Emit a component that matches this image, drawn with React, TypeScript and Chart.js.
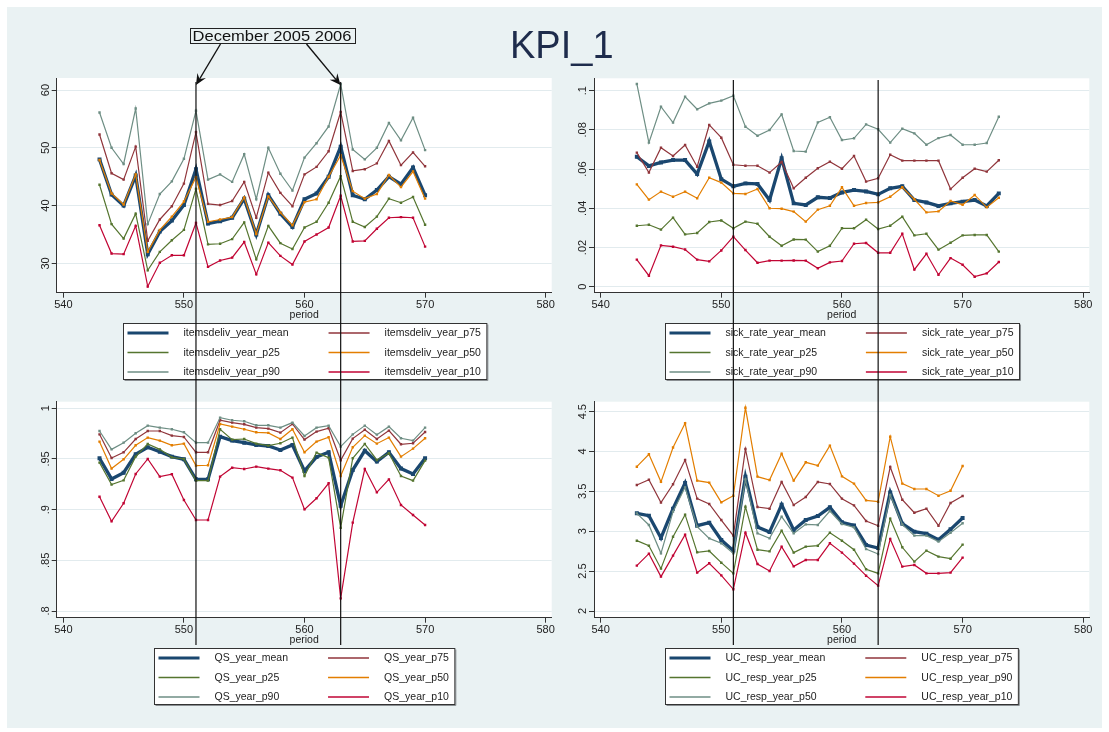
import React, { useEffect, useRef } from "react";
import { Chart, registerables } from "chart.js";

Chart.register(...registerables);

const FONT = '"Liberation Sans", Arial, Helvetica, sans-serif';
const BG = "#eaf2f3";

// ---------- data ----------
const periods = [543, 544, 545, 546, 547, 548, 549, 550, 551, 552, 553, 554, 555, 556, 557, 558, 559, 560, 561, 562, 563, 564, 565, 566, 567, 568, 569, 570];
const periodsSick = [543, 544, 545, 546, 547, 548, 549, 550, 551, 552, 553, 554, 555, 556, 557, 558, 559, 560, 561, 562, 563, 564, 565, 566, 567, 568, 569, 570, 571, 572, 573];
const xTicks = [540, 550, 560, 570, 580];
const xTickLabels = ["540", "550", "560", "570", "580"];
const eventPeriods = [551, 563];

const itemsMean = [48.0, 41.9, 40.0, 45.2, 31.6, 35.5, 37.4, 40.1, 46.3, 36.9, 37.3, 37.9, 41.2, 35.0, 41.8, 38.6, 36.3, 41.1, 42.1, 45.0, 50.2, 41.8, 41.1, 42.7, 45.0, 43.7, 46.6, 41.8];
const itemsP75 = [52.3, 45.6, 44.5, 50.2, 33.9, 37.6, 39.9, 43.8, 52.7, 40.3, 40.1, 40.8, 44.1, 37.9, 45.7, 42.2, 39.9, 45.4, 46.7, 49.4, 56.2, 46.0, 46.3, 47.3, 51.2, 47.0, 49.2, 46.8];
const itemsP25 = [43.6, 36.8, 34.3, 38.6, 28.8, 32.0, 34.0, 35.8, 42.9, 33.3, 33.4, 34.2, 37.1, 30.7, 36.5, 33.5, 32.5, 36.2, 37.2, 40.5, 45.1, 37.2, 36.3, 38.1, 41.2, 40.5, 41.5, 36.7];
const itemsP50 = [47.9, 42.1, 40.2, 45.4, 32.0, 35.8, 38.1, 40.7, 44.9, 37.2, 37.6, 38.0, 41.4, 35.1, 41.6, 38.8, 36.6, 40.6, 41.1, 45.0, 48.7, 42.5, 41.2, 42.0, 45.3, 43.2, 45.9, 41.2];
const itemsP90 = [56.1, 50.0, 47.2, 56.8, 36.8, 42.0, 44.2, 48.1, 56.4, 44.5, 45.4, 44.1, 48.9, 41.1, 50.0, 45.5, 42.6, 48.3, 50.8, 53.7, 61.0, 49.7, 48.0, 50.0, 54.3, 51.3, 55.2, 49.6];
const itemsP10 = [36.6, 31.7, 31.6, 36.5, 26.0, 30.1, 31.4, 31.4, 37.0, 29.4, 30.5, 31.0, 33.7, 28.1, 33.6, 31.3, 29.8, 33.8, 35.0, 36.2, 41.7, 33.8, 33.9, 36.0, 37.9, 38.0, 37.9, 32.9];
const itemsTicks = [30, 40, 50, 60];
const itemsTickLabels = ["30", "40", "50", "60"];

const sickMean = [0.0663, 0.0616, 0.0634, 0.0646, 0.0646, 0.0575, 0.0741, 0.0548, 0.0512, 0.0527, 0.0524, 0.0442, 0.0655, 0.0425, 0.0417, 0.0456, 0.0452, 0.0481, 0.0493, 0.0486, 0.0471, 0.0502, 0.0512, 0.0442, 0.0430, 0.0412, 0.0425, 0.0434, 0.0442, 0.0412, 0.0476];
const sickP75 = [0.0684, 0.0582, 0.0709, 0.0667, 0.0723, 0.0612, 0.0825, 0.0760, 0.0622, 0.0617, 0.0617, 0.0582, 0.0636, 0.0502, 0.0556, 0.0604, 0.0638, 0.0602, 0.0667, 0.0536, 0.0553, 0.0673, 0.0643, 0.0643, 0.0643, 0.0643, 0.0498, 0.0556, 0.0602, 0.0587, 0.0645];
const sickP25 = [0.0311, 0.0316, 0.0291, 0.0352, 0.0267, 0.0274, 0.0330, 0.0338, 0.0298, 0.0332, 0.0321, 0.0255, 0.0209, 0.0241, 0.0240, 0.0179, 0.0209, 0.0298, 0.0298, 0.0342, 0.0294, 0.0311, 0.0357, 0.0262, 0.0270, 0.0189, 0.0224, 0.0262, 0.0264, 0.0264, 0.0179];
const sickP50 = [0.0522, 0.0444, 0.0485, 0.0459, 0.0485, 0.0451, 0.0556, 0.0531, 0.0476, 0.0473, 0.0498, 0.0400, 0.0398, 0.0383, 0.0332, 0.0393, 0.0413, 0.0507, 0.0413, 0.0427, 0.0430, 0.0459, 0.0507, 0.0446, 0.0379, 0.0384, 0.0437, 0.0418, 0.0468, 0.0405, 0.0454];
const sickP90 = [0.1034, 0.0735, 0.0918, 0.0837, 0.0969, 0.0905, 0.0935, 0.0949, 0.0974, 0.0816, 0.0770, 0.0799, 0.0879, 0.0692, 0.0689, 0.0838, 0.0864, 0.0748, 0.0757, 0.0828, 0.0803, 0.0735, 0.0806, 0.0782, 0.0724, 0.0758, 0.0774, 0.0724, 0.0724, 0.0733, 0.0867];
const sickP10 = [0.0138, 0.0056, 0.0211, 0.0204, 0.0190, 0.0138, 0.0129, 0.0185, 0.0255, 0.0187, 0.0122, 0.0133, 0.0133, 0.0134, 0.0133, 0.0094, 0.0124, 0.0131, 0.0219, 0.0223, 0.0173, 0.0173, 0.0270, 0.0087, 0.0168, 0.0061, 0.0146, 0.0112, 0.0051, 0.0068, 0.0126];
const sickTicks = [0, 0.02, 0.04, 0.06, 0.08, 0.1];
const sickTickLabels = ["0", ".02", ".04", ".06", ".08", ".1"];

const qsMean = [0.9507, 0.9303, 0.9365, 0.9546, 0.9615, 0.9572, 0.9523, 0.9497, 0.9299, 0.9299, 0.9720, 0.9681, 0.9661, 0.9638, 0.9628, 0.9589, 0.9638, 0.9382, 0.9520, 0.9566, 0.9039, 0.9391, 0.9582, 0.9474, 0.9566, 0.9405, 0.9352, 0.9507];
const qsP75 = [0.9743, 0.9510, 0.9566, 0.9697, 0.9776, 0.9776, 0.9730, 0.9717, 0.9566, 0.9566, 0.9882, 0.9859, 0.9842, 0.9809, 0.9799, 0.9760, 0.9845, 0.9691, 0.9770, 0.9803, 0.9487, 0.9701, 0.9789, 0.9697, 0.9780, 0.9645, 0.9655, 0.9766];
const qsP25 = [0.9464, 0.9247, 0.9289, 0.9523, 0.9648, 0.9595, 0.9516, 0.9500, 0.9286, 0.9286, 0.9793, 0.9691, 0.9697, 0.9651, 0.9632, 0.9655, 0.9711, 0.9332, 0.9563, 0.9513, 0.8822, 0.9507, 0.9648, 0.9490, 0.9556, 0.9332, 0.9286, 0.9484];
const qsP50 = [0.9671, 0.9405, 0.9497, 0.9635, 0.9711, 0.9681, 0.9635, 0.9651, 0.9434, 0.9438, 0.9845, 0.9819, 0.9793, 0.9763, 0.9757, 0.9697, 0.9793, 0.9566, 0.9671, 0.9714, 0.9332, 0.9615, 0.9730, 0.9651, 0.9711, 0.9523, 0.9602, 0.9704];
const qsP90 = [0.9776, 0.9595, 0.9661, 0.9753, 0.9829, 0.9809, 0.9793, 0.9763, 0.9661, 0.9661, 0.9908, 0.9882, 0.9872, 0.9832, 0.9832, 0.9809, 0.9859, 0.9727, 0.9809, 0.9829, 0.9622, 0.9743, 0.9829, 0.9740, 0.9819, 0.9704, 0.9681, 0.9809];
const qsP10 = [0.9128, 0.8885, 0.9063, 0.9352, 0.9500, 0.9326, 0.9349, 0.9095, 0.8898, 0.8898, 0.9326, 0.9414, 0.9401, 0.9424, 0.9405, 0.9388, 0.9316, 0.9003, 0.9112, 0.9260, 0.8125, 0.8872, 0.9401, 0.9171, 0.9299, 0.9046, 0.8947, 0.8849];
const qsTicks = [0.8, 0.85, 0.9, 0.95, 1];
const qsTickLabels = [".8", ".85", ".9", ".95", "1"];

const ucMean = [3.225, 3.196, 2.916, 3.283, 3.605, 3.07, 3.108, 2.89, 2.757, 3.685, 3.053, 2.99, 3.334, 3.016, 3.141, 3.191, 3.30, 3.112, 3.074, 2.828, 2.79, 3.488, 3.095, 2.995, 2.97, 2.895, 3.024, 3.166];
const ucP75 = [3.58, 3.647, 3.359, 3.589, 3.894, 3.409, 3.342, 3.141, 2.945, 4.032, 3.304, 3.283, 3.618, 3.33, 3.43, 3.618, 3.593, 3.409, 3.325, 3.129, 3.07, 3.806, 3.396, 3.233, 3.283, 3.07, 3.354, 3.442];
const ucP25 = [2.882, 2.819, 2.531, 2.932, 3.208, 2.736, 2.753, 2.606, 2.472, 3.308, 2.769, 2.748, 3.007, 2.732, 2.807, 2.819, 2.982, 2.882, 2.769, 2.523, 2.472, 3.158, 2.799, 2.619, 2.757, 2.682, 2.656, 2.832];
const ucP90 = [3.81, 3.965, 3.62, 4.05, 4.354, 3.635, 3.61, 3.363, 3.446, 4.55, 3.685, 3.643, 3.973, 3.635, 3.865, 3.823, 4.074, 3.689, 3.597, 3.388, 3.371, 4.186, 3.597, 3.53, 3.53, 3.446, 3.509, 3.819];
const ucP50 = [3.225, 3.079, 2.723, 3.246, 3.551, 3.058, 2.911, 2.849, 2.723, 3.651, 2.974, 2.911, 3.183, 2.974, 3.087, 3.079, 3.254, 3.091, 3.049, 2.777, 2.715, 3.455, 3.087, 2.945, 2.945, 2.87, 2.982, 3.10];
const ucP10 = [2.569, 2.719, 2.431, 2.694, 2.957, 2.481, 2.598, 2.447, 2.272, 2.982, 2.589, 2.502, 2.807, 2.56, 2.64, 2.64, 2.849, 2.732, 2.594, 2.443, 2.318, 2.903, 2.556, 2.577, 2.472, 2.472, 2.481, 2.669];
const ucTicks = [2, 2.5, 3, 3.5, 4, 4.5];
const ucTickLabels = ["2", "2.5", "3", "3.5", "4", "4.5"];

// ---------- style ----------
const C_NAVY = "#1a476f";
const C_MAROON = "#90353b";
const C_GREEN = "#55752f";
const C_ORANGE = "#e37e00";
const C_TEAL = "#6e8e84";
const C_CRAN = "#c10534";
const SERIES_COLORS = [C_NAVY, C_MAROON, C_GREEN, C_ORANGE, C_TEAL, C_CRAN];

type Series = { label: string; data: number[] };
type PanelCfg = {
  x: number; y: number; w: number; h: number;
  periods: number[];
  series: Series[];
  yMin: number; yMax: number; yTicks: number[]; yTickLabels: string[];
  yWidth: number; padTop: number; padRight: number; padBottom: number;
  legendTop: number; lineTop: number; lineBottom: number;
};

const X_MIN = 539.45;
const X_MAX = 580.5;
const X_SCALE_H = 29.1;

const panels: PanelCfg[] = [
  {
    x: 0, y: 70, w: 560, h: 320, periods,
    series: [
      { label: "itemsdeliv_year_mean", data: itemsMean },
      { label: "itemsdeliv_year_p75", data: itemsP75 },
      { label: "itemsdeliv_year_p25", data: itemsP25 },
      { label: "itemsdeliv_year_p50", data: itemsP50 },
      { label: "itemsdeliv_year_p90", data: itemsP90 },
      { label: "itemsdeliv_year_p10", data: itemsP10 },
    ],
    yMin: 24.93, yMax: 62.08, yTicks: itemsTicks, yTickLabels: itemsTickLabels,
    yWidth: 56.7, padTop: 8, padRight: 8.3, padBottom: 68.2,
    legendTop: 253.3, lineTop: 12, lineBottom: 320,
  },
  {
    x: 560, y: 70, w: 549, h: 320, periods: periodsSick,
    series: [
      { label: "sick_rate_year_mean", data: sickMean },
      { label: "sick_rate_year_p75", data: sickP75 },
      { label: "sick_rate_year_p25", data: sickP25 },
      { label: "sick_rate_year_p50", data: sickP50 },
      { label: "sick_rate_year_p90", data: sickP90 },
      { label: "sick_rate_year_p10", data: sickP10 },
    ],
    yMin: -0.00306, yMax: 0.1063, yTicks: sickTicks, yTickLabels: sickTickLabels,
    yWidth: 34, padTop: 8.3, padRight: 19.7, padBottom: 68.2,
    legendTop: 253.3, lineTop: 10, lineBottom: 320,
  },
  {
    x: 0, y: 390, w: 560, h: 320, periods,
    series: [
      { label: "QS_year_mean", data: qsMean },
      { label: "QS_year_p75", data: qsP75 },
      { label: "QS_year_p25", data: qsP25 },
      { label: "QS_year_p50", data: qsP50 },
      { label: "QS_year_p90", data: qsP90 },
      { label: "QS_year_p10", data: qsP10 },
    ],
    yMin: 0.7934, yMax: 1.0065, yTicks: qsTicks, yTickLabels: qsTickLabels,
    yWidth: 56.7, padTop: 11.7, padRight: 8.3, padBottom: 63.2,
    legendTop: 257.7, lineTop: 0, lineBottom: 255,
  },
  {
    x: 560, y: 390, w: 549, h: 320, periods,
    series: [
      { label: "UC_resp_year_mean", data: ucMean },
      { label: "UC_resp_year_p75", data: ucP75 },
      { label: "UC_resp_year_p25", data: ucP25 },
      { label: "UC_resp_year_p90", data: ucP90 },
      { label: "UC_resp_year_p50", data: ucP50 },
      { label: "UC_resp_year_p10", data: ucP10 },
    ],
    yMin: 1.916, yMax: 4.625, yTicks: ucTicks, yTickLabels: ucTickLabels,
    yWidth: 34, padTop: 11.7, padRight: 19.7, padBottom: 63.2,
    legendTop: 257.7, lineTop: 0, lineBottom: 255,
  },
];

function makeDecorPlugin(cfg: PanelCfg) {
  return {
    id: "stataDecor",
    beforeDraw(chart: any) {
      const { ctx, chartArea: a } = chart;
      ctx.save();
      ctx.fillStyle = "#ffffff";
      ctx.fillRect(a.left, a.top, a.right - a.left, a.bottom - a.top);
      ctx.restore();
    },
    afterDraw(chart: any) {
      const { ctx, chartArea: a } = chart;
      const ys = chart.scales.y;
      const xs = chart.scales.x;

      // rotated y tick labels
      ctx.save();
      ctx.fillStyle = "#222";
      ctx.font = `11px ${FONT}`;
      ctx.textAlign = "center";
      ctx.textBaseline = "alphabetic";
      cfg.yTicks.forEach((v, i) => {
        const py = ys.getPixelForValue(v);
        ctx.save();
        ctx.translate(a.left - 8, py);
        ctx.rotate(-Math.PI / 2);
        ctx.fillText(cfg.yTickLabels[i], 0, 0);
        ctx.restore();
      });
      ctx.restore();

      // legend box
      ctx.save();
      ctx.font = `10.5px ${FONT}`;
      const labels = cfg.series.map((s) => s.label);
      const w1 = Math.max(...[0, 2, 4].map((i) => ctx.measureText(labels[i]).width));
      const w2 = Math.max(...[1, 3, 5].map((i) => ctx.measureText(labels[i]).width));
      const padL = 4, key = 41, gap = 15, mid = 40, padR = 6;
      const boxW = padL + key + gap + w1 + mid + key + gap + w2 + padR;
      const cx = (a.left + a.right) / 2;
      const bx = Math.round(cx - boxW / 2) + 0.5;
      const by = Math.round(cfg.legendTop) + 0.5;
      const bh = 56;
      ctx.fillStyle = "#ffffff";
      ctx.fillRect(bx, by, boxW, bh);
      ctx.strokeStyle = "#8a8f92";
      ctx.lineWidth = 1;
      ctx.beginPath();
      ctx.moveTo(bx + 1, by + bh + 1);
      ctx.lineTo(bx + boxW + 1, by + bh + 1);
      ctx.lineTo(bx + boxW + 1, by + 1);
      ctx.stroke();
      ctx.strokeStyle = "#333";
      ctx.strokeRect(bx, by, boxW, bh);
      const rows = [9.5, 29, 48.5];
      ctx.textAlign = "left";
      ctx.textBaseline = "middle";
      for (let r = 0; r < 3; r++) {
        for (let c = 0; c < 2; c++) {
          const idx = r * 2 + c;
          const x0 = c === 0 ? bx + padL : bx + padL + key + gap + w1 + mid;
          const yy = by + rows[r];
          ctx.strokeStyle = SERIES_COLORS[idx];
          ctx.lineWidth = idx === 0 ? 3.2 : 1.4;
          ctx.beginPath();
          ctx.moveTo(x0, yy);
          ctx.lineTo(x0 + key, yy);
          ctx.stroke();
          ctx.fillStyle = "#222";
          ctx.fillText(labels[idx], x0 + key + gap, yy + 0.5);
        }
      }
      ctx.restore();

      // event lines
      ctx.save();
      ctx.strokeStyle = "#111";
      ctx.lineWidth = 1.2;
      eventPeriods.forEach((p) => {
        const px = xs.getPixelForValue(p);
        ctx.beginPath();
        ctx.moveTo(px, cfg.lineTop);
        ctx.lineTo(px, cfg.lineBottom);
        ctx.stroke();
      });
      ctx.restore();
    },
  };
}

function Panel({ cfg }: { cfg: PanelCfg }) {
  const ref = useRef<HTMLCanvasElement>(null);
  useEffect(() => {
    const canvas = ref.current;
    if (!canvas) return;
    const datasets = cfg.series.map((s, i) => ({
      label: s.label,
      data: cfg.periods.map((p, j) => ({ x: p, y: s.data[j] })),
      borderColor: SERIES_COLORS[i],
      backgroundColor: SERIES_COLORS[i],
      borderWidth: i === 0 ? 3.3 : 1.2,
      pointStyle: "rect",
      pointRadius: i === 0 ? 2.8 : 1.7,
      pointBorderWidth: 0,
      tension: 0,
      order: 10 - i,
    }));
    const chart = new Chart(canvas, {
      type: "line",
      data: { datasets } as any,
      options: {
        animation: false,
        responsive: false,
        maintainAspectRatio: false,
        events: [],
        layout: { padding: { left: 0, top: cfg.padTop, right: cfg.padRight, bottom: cfg.padBottom } },
        plugins: { legend: { display: false }, tooltip: { enabled: false }, title: { display: false } },
        scales: {
          x: {
            type: "linear",
            min: X_MIN,
            max: X_MAX,
            afterBuildTicks: (s: any) => {
              s.ticks = xTicks.map((v) => ({ value: v }));
            },
            afterFit: (s: any) => {
              s.height = X_SCALE_H;
            },
            ticks: {
              includeBounds: false,
              padding: 1,
              color: "#222",
              font: { family: FONT, size: 11 },
              maxRotation: 0,
              autoSkip: false,
              callback: (v: any) => {
                const i = xTicks.indexOf(Number(v));
                return i >= 0 ? xTickLabels[i] : "";
              },
            },
            grid: { drawOnChartArea: false, tickLength: 5, tickColor: "#333", color: "#333" },
            border: { display: true, color: "#333", width: 1 },
            title: { display: true, text: "period", color: "#222", font: { family: FONT, size: 10.5 }, padding: 0 },
          },
          y: {
            type: "linear",
            min: cfg.yMin,
            max: cfg.yMax,
            afterBuildTicks: (s: any) => {
              s.ticks = cfg.yTicks.map((v) => ({ value: v }));
            },
            afterFit: (s: any) => {
              s.width = cfg.yWidth;
            },
            ticks: { display: false, includeBounds: false },
            grid: { color: "#e2ebee", lineWidth: 1, tickLength: 5, tickColor: "#333" },
            border: { display: true, color: "#333", width: 1 },
          },
        },
      } as any,
      plugins: [makeDecorPlugin(cfg)],
    });
    return () => chart.destroy();
  }, []);
  return (
    <canvas
      ref={ref}
      width={cfg.w}
      height={cfg.h}
      style={{ position: "absolute", left: cfg.x, top: cfg.y, width: cfg.w, height: cfg.h }}
    />
  );
}

function Arrow({ x1, y1, x2, y2 }: { x1: number; y1: number; x2: number; y2: number }) {
  const dx = x2 - x1, dy = y2 - y1;
  const L = Math.hypot(dx, dy);
  const ux = dx / L, uy = dy / L;
  const nx = -uy, ny = ux;
  const hl = 11, hw = 5, inner = 7;
  const bx = x2 - ux * hl, by = y2 - uy * hl;
  const p1 = [bx + nx * hw, by + ny * hw];
  const p2 = [bx - nx * hw, by - ny * hw];
  const pi = [x2 - ux * inner, y2 - uy * inner];
  return (
    <g>
      <line x1={x1} y1={y1} x2={pi[0]} y2={pi[1]} stroke="#111" strokeWidth={1.4} />
      <polygon points={`${x2},${y2} ${p1[0]},${p1[1]} ${pi[0]},${pi[1]} ${p2[0]},${p2[1]}`} fill="#111" />
    </g>
  );
}

export default function App() {
  return (
    <div style={{ position: "fixed", left: 0, top: 0, width: 1109, height: 732, background: "#ffffff", overflow: "hidden" }}>
      <div style={{ position: "absolute", left: 7, top: 7, width: 1095, height: 721, background: BG }} />
      {panels.map((p, i) => (
        <Panel key={i} cfg={p} />
      ))}
      <svg
        width={1109}
        height={732}
        style={{ position: "absolute", left: 0, top: 0, pointerEvents: "none" }}
      >
        <text x={510} y={58} fontFamily={FONT} fontSize={38} fill="#1e2c4c">
          KPI_1
        </text>
        <rect x={190.5} y={28.5} width={165} height={15} fill={BG} stroke="#222" strokeWidth={1} />
        <text
          x={192.5}
          y={41}
          fontFamily={FONT}
          fontSize={14.5}
          fill="#111"
          textLength={159}
          lengthAdjust="spacingAndGlyphs"
        >
          December 2005 2006
        </text>
        <Arrow x1={220.5} y1={44} x2={196} y2={85} />
        <Arrow x1={306.5} y1={44} x2={340.5} y2={85} />
      </svg>
    </div>
  );
}
